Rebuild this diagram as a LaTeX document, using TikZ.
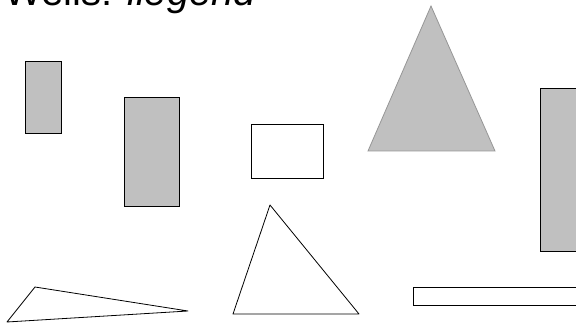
\documentclass[tikz,border=0pt]{standalone}
\usepackage{fontspec}
\setmainfont{Liberation Sans}
\definecolor{shapegray}{RGB}{192,192,192}
\definecolor{edgegray}{RGB}{150,150,150}
\usepackage{tikz}

\begin{document}
\begin{tikzpicture}[x=1pt,y=-1pt,
    greybox/.style={draw=black,fill=shapegray,line width=0.8pt},
    whitebox/.style={draw=black,fill=white,line width=0.8pt}]
    \useasboundingbox (0,0) rectangle (576,323);
    \clip (0,0) rectangle (576,323);

    % title
    \node[anchor=base west,inner sep=0pt,
          font=\fontsize{40}{48}\selectfont] (title) at (4,6)
      {Wells: \textit{ilegend}};

    % filled rectangles
    \draw[greybox] (25,61) rectangle (61,133);
    \draw[greybox] (124,97) rectangle (179,206);
    \draw[greybox] (540,88) rectangle (590,251);

    % open rectangles
    \draw[whitebox] (251,124) rectangle (323,178);
    \draw[whitebox] (413,287) rectangle (590,305);

    % triangles
    \draw[draw=edgegray,fill=shapegray,line width=0.8pt]
      (431,6) -- (368,151) -- (495,151) -- cycle;
    \draw[black,line width=0.8pt,line join=round]
      (270,205) -- (233,314) -- (359,314) -- cycle;
    \draw[black,line width=0.8pt,line join=round]
      (35,287) -- (188,311) -- (7,322) -- cycle;
\end{tikzpicture}
\end{document}
